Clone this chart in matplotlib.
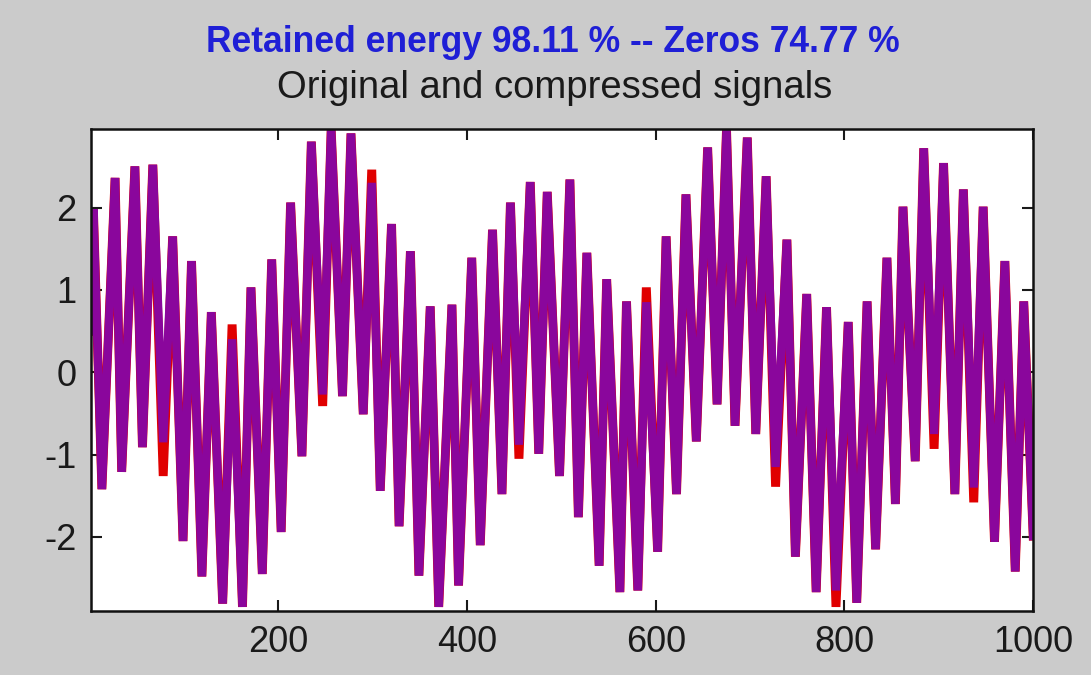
import numpy as np
import matplotlib
matplotlib.use('Agg')
import matplotlib.pyplot as plt

# extrema of the signal (sample index, value)
sample_idx = [1, 4, 13, 27, 34, 48, 56, 67, 78, 88, 99, 108, 119, 129, 141, 151, 162,
              171, 183, 193, 203, 213, 225, 235, 247, 256, 268, 277, 290, 299, 308,
              320, 328, 340, 349, 361, 370, 384, 391, 405, 414, 427, 437, 446, 455,
              467, 476, 485, 498, 509, 518, 527, 540, 548, 562, 569, 581, 590, 602,
              611, 622, 632, 643, 655, 665, 675, 684, 697, 706, 717, 727, 739, 748,
              760, 770, 781, 791, 804, 813, 824, 833, 845, 854, 862, 875, 884, 895,
              905, 917, 926, 937, 947, 959, 970, 981, 990, 1000]

original = [0.50, 1.98, -1.42, 2.36, -1.21, 2.50, -0.91, 2.52, -1.26, 1.65, -2.05,
            1.35, -2.48, 0.73, -2.81, 0.58, -2.85, 1.03, -2.45, 1.37, -1.94, 2.06,
            -1.02, 2.80, -0.41, 2.95, -0.29, 2.90, -0.51, 2.46, -1.44, 1.80, -1.87,
            1.47, -2.47, 0.80, -2.85, 0.82, -2.59, 1.39, -2.10, 1.73, -1.48, 2.06,
            -1.05, 2.31, -0.99, 2.19, -1.26, 2.34, -1.76, 1.45, -2.35, 1.13, -2.67,
            0.86, -2.65, 1.03, -2.18, 1.65, -1.48, 2.16, -0.84, 2.73, -0.39, 2.95,
            -0.65, 2.85, -0.75, 2.38, -1.39, 1.61, -2.24, 0.95, -2.67, 0.79, -2.85,
            0.61, -2.80, 0.86, -2.15, 1.39, -1.60, 2.01, -1.08, 2.72, -0.93, 2.54,
            -1.48, 2.22, -1.58, 2.01, -2.06, 1.35, -2.42, 0.86, -1.99]

compressed = [0.50, 1.98, -1.42, 2.36, -1.21, 2.50, -0.91, 2.52, -0.85, 1.65, -2.05,
              1.35, -2.48, 0.73, -2.81, 0.40, -2.85, 1.03, -2.45, 1.37, -1.94, 2.06,
              -1.02, 2.80, -0.27, 2.95, -0.29, 2.90, -0.51, 2.30, -1.44, 1.80, -1.87,
              1.47, -2.47, 0.80, -2.85, 0.82, -2.59, 1.39, -2.10, 1.73, -1.48, 2.06,
              -0.88, 2.31, -0.99, 2.19, -1.26, 2.34, -1.76, 1.45, -2.35, 1.13, -2.67,
              0.86, -2.65, 0.85, -2.18, 1.65, -1.48, 2.16, -0.84, 2.73, -0.39, 2.95,
              -0.65, 2.85, -0.75, 2.38, -1.15, 1.61, -2.24, 0.95, -2.67, 0.79, -2.65,
              0.61, -2.80, 0.86, -2.15, 1.39, -1.60, 2.01, -1.08, 2.72, -0.75, 2.54,
              -1.48, 2.22, -1.40, 2.01, -2.06, 1.35, -2.42, 0.86, -1.99]

x_ticks = [200, 400, 600, 800, 1000]
y_ticks = [-2, -1, 0, 1, 2]

title_top = 'Retained energy 98.11 % -- Zeros 74.77 %'
title_bottom = 'Original and compressed signals'

plt.rcParams['font.family'] = ['Liberation Sans', 'DejaVu Sans']
plt.rcParams['axes.unicode_minus'] = False

fig = plt.figure(figsize=(10.91, 6.75), dpi=100, facecolor='#cbcbcb')
ax = fig.add_axes([0.083, 0.0948, 0.864, 0.7148])
ax.set_facecolor('white')

ax.plot(sample_idx, original, color='#e00000', linewidth=6.4,
        solid_joinstyle='bevel')
ax.plot(sample_idx, compressed, color='#8a069c', linewidth=6.0,
        solid_joinstyle='bevel')

ax.set_xlim(1, 1000)
ax.set_ylim(-2.90, 2.96)
ax.set_xticks(x_ticks)
ax.set_yticks(y_ticks)
ax.tick_params(axis='both', which='major', direction='in', length=8, width=1.5,
               top=True, right=True, labelsize=26, colors='#1a1a1a', pad=10)
for s in ax.spines.values():
    s.set_linewidth(1.8)
    s.set_color('#111111')

fig.text(0.507, 0.923, title_top, ha='center', va='baseline', fontsize=25.6,
         fontweight='bold', color='#1f1fd6')
fig.text(0.508, 0.855, title_bottom, ha='center', va='baseline', fontsize=27.5,
         color='#1a1a1a')

fig.savefig('out.png', dpi=100, facecolor=fig.get_facecolor())
